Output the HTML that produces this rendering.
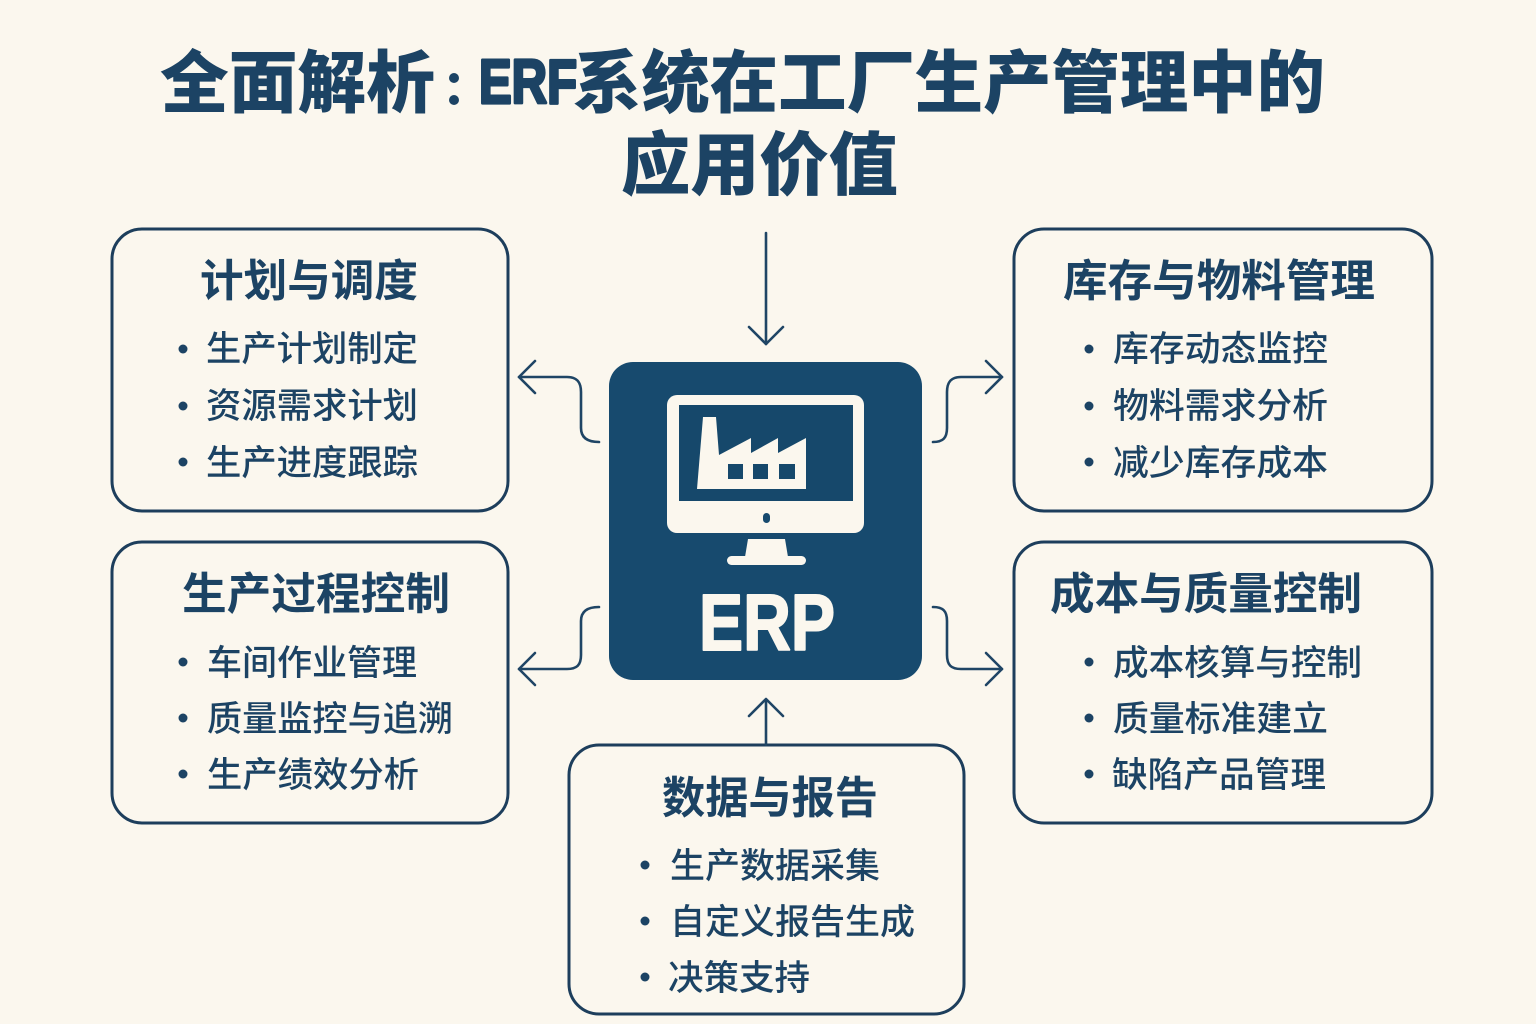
<!DOCTYPE html>
<html>
<head>
<meta charset="utf-8">
<style>
  html, body { margin:0; padding:0; background:#fbf7ee; }
  body { width:1536px; height:1024px; overflow:hidden; }
  svg { display:block; }
  .t { font-family: "Liberation Sans", "Noto Sans CJK SC", sans-serif; fill:#1c4364; }
  .h { font-weight:900; }
  .bt { font-weight:700; font-size:44px; }
  .li { font-weight:500; font-size:35px; }
</style>
</head>
<body>
<svg width="1536" height="1024" viewBox="0 0 1536 1024" xmlns="http://www.w3.org/2000/svg">
  <rect x="0" y="0" width="1536" height="1024" fill="#fbf7ee"/>

  <!-- Main title -->
  <text class="t h" x="160" y="107" font-size="68" textLength="275" lengthAdjust="spacingAndGlyphs">全面解析</text>
  <circle cx="454" cy="78" r="5" fill="#1c4364"/>
  <circle cx="454" cy="100" r="5" fill="#1c4364"/>
  <text class="t" x="479" y="103" font-size="62" style="font-weight:700" stroke="#1c4364" stroke-width="3.2" stroke-linejoin="round" textLength="98" lengthAdjust="spacingAndGlyphs">ERF</text>
  <text class="t h" x="573" y="107" font-size="68" textLength="752" lengthAdjust="spacingAndGlyphs">系统在工厂生产管理中的</text>
  <text class="t h" x="621" y="189" font-size="69" textLength="277" lengthAdjust="spacingAndGlyphs">应用价值</text>

  <!-- Boxes -->
  <g fill="none" stroke="#1d3e5c" stroke-width="3">
    <rect x="112" y="229" width="396" height="282" rx="30"/>
    <rect x="1014" y="229" width="418" height="282" rx="30"/>
    <rect x="112" y="542" width="396" height="281" rx="30"/>
    <rect x="1014" y="542" width="418" height="281" rx="30"/>
    <rect x="569" y="745" width="395" height="269" rx="30"/>
  </g>

  <!-- Connectors -->
  <g fill="none" stroke="#1f4565" stroke-width="2.6" stroke-linecap="round" stroke-linejoin="round">
    <path d="M766 233 L766 344"/>
    <path d="M749 327 L766 344 L783 327"/>
    <path d="M766 745 L766 700"/>
    <path d="M749 716 L766 699 L783 716"/>

    <path d="M599 442 C588 442 581 438 581 428 L581 392 C581 382 577 377 567 377 L519 377"/>
    <path d="M535 361 L519 377 L535 393"/>

    <path d="M599 607 C588 607 581 611 581 621 L581 655 C581 665 577 669 567 669 L519 669"/>
    <path d="M535 653 L519 669 L535 685"/>

    <path d="M933 442 C943 442 947 438 947 428 L947 392 C947 382 951 377 961 377 L1002 377"/>
    <path d="M986 361 L1002 377 L986 393"/>

    <path d="M933 607 C943 607 947 611 947 621 L947 655 C947 665 951 669 961 669 L1002 669"/>
    <path d="M986 653 L1002 669 L986 685"/>
  </g>

  <!-- ERP center -->
  <rect x="609" y="362" width="313" height="318" rx="24" fill="#174a6e"/>
  <rect x="667" y="395" width="197" height="138" rx="10" fill="#fbf7ee"/>
  <rect x="679" y="405" width="174" height="96" fill="#16486b"/>
  <polygon points="697,489 703,417 716,417 719,455 751,438 751,453 778,438 778,453 806,438 806,489" fill="#fbf7ee"/>
  <rect x="728" y="464" width="15" height="15" fill="#16486b"/>
  <rect x="753" y="464" width="15" height="15" fill="#16486b"/>
  <rect x="779" y="464" width="16" height="15" fill="#16486b"/>
  <rect x="763" y="513" width="7" height="10" rx="3.5" fill="#174a6e"/>
  <polygon points="748,539 785,539 788,557 745,557" fill="#fbf7ee"/>
  <rect x="727" y="556" width="79" height="9" rx="4.5" fill="#fbf7ee"/>
  <text x="699" y="650" font-family="Liberation Sans, sans-serif" font-weight="700" font-size="80" fill="#fbf7ee" stroke="#fbf7ee" stroke-width="2" stroke-linejoin="round" textLength="136" lengthAdjust="spacingAndGlyphs">ERP</text>

  <!-- Box TL -->
  <text class="t bt" x="200" y="296" textLength="218" lengthAdjust="spacingAndGlyphs">计划与调度</text>
  <g fill="#1c4364">
    <circle cx="183" cy="349" r="4.5"/>
    <circle cx="183" cy="406" r="4.5"/>
    <circle cx="183" cy="462" r="4.5"/>
  </g>
  <text class="t li" x="206" y="361" textLength="212" lengthAdjust="spacingAndGlyphs">生产计划制定</text>
  <text class="t li" x="206" y="418" textLength="212" lengthAdjust="spacingAndGlyphs">资源需求计划</text>
  <text class="t li" x="206" y="475" textLength="212" lengthAdjust="spacingAndGlyphs">生产进度跟踪</text>

  <!-- Box TR -->
  <text class="t bt" x="1063" y="296" textLength="312" lengthAdjust="spacingAndGlyphs">库存与物料管理</text>
  <g fill="#1c4364">
    <circle cx="1089" cy="349" r="4.5"/>
    <circle cx="1089" cy="406" r="4.5"/>
    <circle cx="1089" cy="462" r="4.5"/>
  </g>
  <text class="t li" x="1113" y="361" textLength="215" lengthAdjust="spacingAndGlyphs">库存动态监控</text>
  <text class="t li" x="1113" y="418" textLength="215" lengthAdjust="spacingAndGlyphs">物料需求分析</text>
  <text class="t li" x="1113" y="475" textLength="215" lengthAdjust="spacingAndGlyphs">减少库存成本</text>

  <!-- Box ML -->
  <text class="t bt" x="182" y="609" textLength="268" lengthAdjust="spacingAndGlyphs">生产过程控制</text>
  <g fill="#1c4364">
    <circle cx="183" cy="662" r="4.5"/>
    <circle cx="183" cy="718" r="4.5"/>
    <circle cx="183" cy="774" r="4.5"/>
  </g>
  <text class="t li" x="207" y="675" textLength="210" lengthAdjust="spacingAndGlyphs">车间作业管理</text>
  <text class="t li" x="207" y="731" textLength="246" lengthAdjust="spacingAndGlyphs">质量监控与追溯</text>
  <text class="t li" x="207" y="787" textLength="212" lengthAdjust="spacingAndGlyphs">生产绩效分析</text>

  <!-- Box MR -->
  <text class="t bt" x="1050" y="609" textLength="312" lengthAdjust="spacingAndGlyphs">成本与质量控制</text>
  <g fill="#1c4364">
    <circle cx="1089" cy="662" r="4.5"/>
    <circle cx="1089" cy="718" r="4.5"/>
    <circle cx="1089" cy="774" r="4.5"/>
  </g>
  <text class="t li" x="1113" y="675" textLength="249" lengthAdjust="spacingAndGlyphs">成本核算与控制</text>
  <text class="t li" x="1113" y="731" textLength="215" lengthAdjust="spacingAndGlyphs">质量标准建立</text>
  <text class="t li" x="1112" y="787" textLength="214" lengthAdjust="spacingAndGlyphs">缺陷产品管理</text>

  <!-- Box Bottom -->
  <text class="t bt" x="662" y="813" textLength="216" lengthAdjust="spacingAndGlyphs">数据与报告</text>
  <g fill="#1c4364">
    <circle cx="645" cy="865" r="4.5"/>
    <circle cx="645" cy="921" r="4.5"/>
    <circle cx="645" cy="977" r="4.5"/>
  </g>
  <text class="t li" x="670" y="878" textLength="210" lengthAdjust="spacingAndGlyphs">生产数据采集</text>
  <text class="t li" x="670" y="934" textLength="245" lengthAdjust="spacingAndGlyphs">自定义报告生成</text>
  <text class="t li" x="668" y="990" textLength="142" lengthAdjust="spacingAndGlyphs">决策支持</text>
</svg>
</body>
</html>
